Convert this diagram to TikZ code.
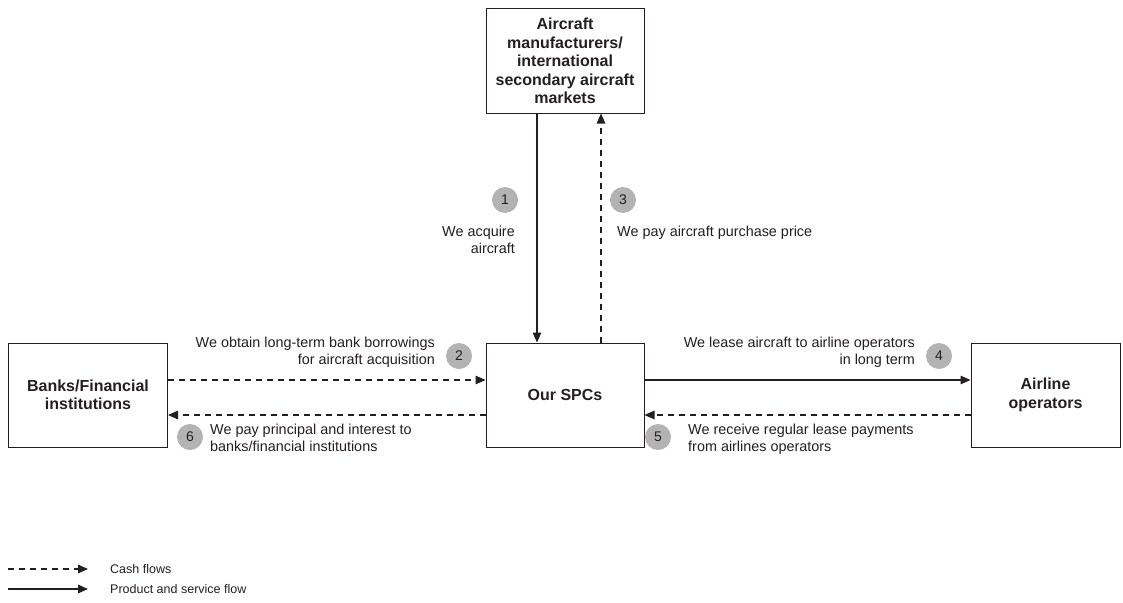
\documentclass[tikz,border=0pt]{standalone}
\usepackage{fontspec}
\setmainfont{Liberation Sans}
\usetikzlibrary{arrows.meta}
\definecolor{ink}{HTML}{231F20}
\definecolor{numgray}{HTML}{B3B3B3}
\tikzset{
  box/.style={draw=ink, line width=1pt, align=center, text=ink, font=\fontsize{16}{18.5}\selectfont\bfseries, inner sep=0pt},
  flow/.style={draw=ink, line width=1.3pt, -{Triangle[length=10pt,width=8.5pt]}},
  cash/.style={flow, dash pattern=on 6pt off 5pt},
  num/.style={circle, fill=numgray, minimum size=26pt, inner sep=0pt, text=ink, font=\fontsize{14}{14}\selectfont},
  lbl/.style={text=ink, font=\fontsize{14.4}{16.5}\selectfont, inner sep=0pt},
  leg/.style={text=ink, font=\fontsize{12.5}{14}\selectfont, inner sep=0pt, anchor=west},
}
\begin{document}
\begin{tikzpicture}[x=1pt,y=-1pt]
\useasboundingbox (0,0) rectangle (1123,602);
\node[box, minimum width=158pt, minimum height=104pt] (top) at (565,61) {Aircraft\\manufacturers/\\international\\secondary aircraft\\markets};
\node[box, minimum width=158pt, minimum height=104pt] (spc) at (565,395) {Our SPCs};
\node[box, minimum width=159pt, minimum height=104pt] (bank) at (88,395) {Banks/Financial\\institutions};
\node[box, minimum width=149pt, minimum height=104pt] (air) at (1045.5,395) {Airline\\operators};

\draw[flow] ([xshift=-28pt]top.south) -- ([xshift=-28pt]spc.north);
\draw[cash] ([xshift=36pt]spc.north) -- ([xshift=36pt]top.south);
\draw[cash] ([yshift=15pt]bank.east) -- ([yshift=15pt]spc.west);
\draw[cash] ([yshift=-20pt]spc.west) -- ([yshift=-20pt]bank.east);
\draw[flow] ([yshift=15pt]spc.east) -- ([yshift=15pt]air.west);
\draw[cash] ([yshift=-20pt]air.west) -- ([yshift=-20pt]spc.east);

\node[num] (n1) at (505,200) {1};
\node[num] (n3) at (623,200) {3};
\node[num] (n2) at (459,356) {2};
\node[num] (n4) at (939,356) {4};
\node[num] (n5) at (658,437) {5};
\node[num] (n6) at (190,437) {6};

\node[lbl, align=right, anchor=north east] (l1) at (515,226) {We acquire\\aircraft};
\node[lbl, align=left, anchor=north west] (l3) at (617,226) {We pay aircraft purchase price};
\node[lbl, align=right, anchor=north east] (l2) at (435,337) {We obtain long-term bank borrowings\\for aircraft acquisition};
\node[lbl, align=right, anchor=north east] (l4) at (915,337) {We lease aircraft to airline operators\\in long term};
\node[lbl, align=left, anchor=north west] (l5) at (688,424) {We receive regular lease payments\\from airlines operators};
\node[lbl, align=left, anchor=north west] (l6) at (210,424) {We pay principal and interest to\\banks/financial institutions};

\coordinate (c1) at (8,569);
\coordinate (c2) at (88,569);
\coordinate (p1) at (8,589);
\coordinate (p2) at (88,589);
\draw[cash] (c1) -- (c2);
\draw[flow] (p1) -- (p2);
\node[leg] (lc) at (110,569) {Cash flows};
\node[leg] (lp) at (110,589) {Product and service flow};
\end{tikzpicture}
\end{document}
